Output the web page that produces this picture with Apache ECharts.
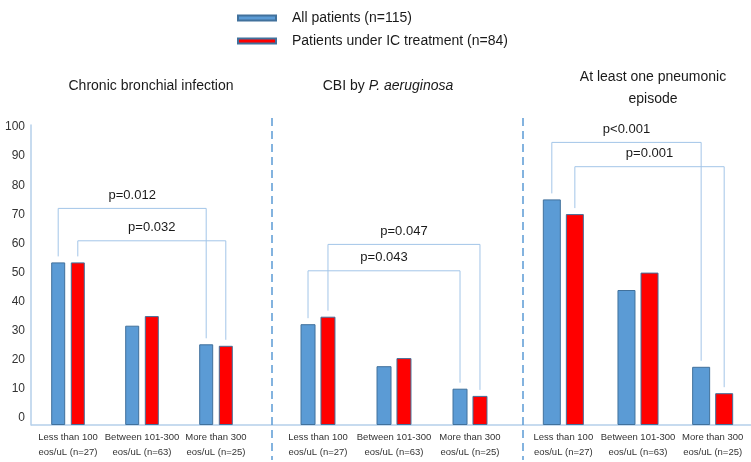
<!DOCTYPE html>
<html>
<head>
<meta charset="utf-8">
<script src="https://cdn.jsdelivr.net/npm/echarts@6/dist/echarts.min.js"></script>
<style>html,body{margin:0;padding:0;background:#fff}#c{width:751px;height:462px}</style>
</head>
<body>
<div id="c"></div>
<script>
// ---------- data ----------
const categories = ['Less than 100\neos/uL (n=27)', 'Between 101-300\neos/uL (n=63)', 'More than 300\neos/uL (n=25)'];
const seriesNames = ['All patients (n=115)', 'Patients under IC treatment (n=84)'];
const panelTitles = ['Chronic bronchial infection', '{n|CBI by }{i|P. aeruginosa}', 'At least one pneumonic\nepisode'];
const allChronic = [54.2, 33.1, 26.9];
const icChronic = [54.2, 36.3, 26.4];
const allPseudo = [33.6, 19.6, 12.1];
const icPseudo = [36.1, 22.3, 9.7];
const allPneumo = [75.2, 45.0, 19.4];
const icPneumo = [70.3, 50.8, 10.6];
const yMin = 0, yMax = 100, yInterval = 10;
// brackets: panel, group (0 = all patients, 1 = IC), from category, to category, level, label
const bracketPanel = [0, 0, 1, 1, 2, 2];
const bracketGroup = [0, 1, 1, 0, 0, 1];
const bracketFrom = [0, 0, 0, 0, 0, 0];
const bracketTo = [2, 2, 2, 2, 2, 2];
const bracketLevel = [72.2, 61.4, 60.2, 51.4, 94.2, 86.1];
const bracketLabel = ['p=0.012', 'p=0.032', 'p=0.047', 'p=0.043', 'p<0.001', 'p=0.001'];

// ---------- layout ----------
const FONT = '"Liberation Sans", Arial, sans-serif';
const plotTop = 125, plotBottom = 425;
const panels = [
  { left: 31, width: 222, barWidth: 14, barGap: '40%', titleX: 151, all: allChronic, ic: icChronic },
  { left: 280, width: 228, barWidth: 15, barGap: '33%', titleX: 388, all: allPseudo, ic: icPseudo },
  { left: 526, width: 224, barWidth: 18, barGap: '28%', titleX: 653, all: allPneumo, ic: icPneumo }
];
const BLUE = '#5b9bd5', RED = '#ff0000', EDGE = '#41719c';
const AXIS = '#b4cfea', BRACKET = '#a3c5e8', TEXT = '#1a1a1a';

const grid = [], xAxis = [], yAxis = [], series = [], title = [];
panels.forEach((p, i) => {
  grid.push({ left: p.left, width: p.width, top: plotTop, height: plotBottom - plotTop });
  xAxis.push({
    type: 'category', gridIndex: i, data: categories,
    axisLine: { show: false }, axisTick: { show: false },
    axisLabel: { color: '#333', fontSize: 9.5, lineHeight: 15, margin: 5, interval: 0, fontFamily: FONT }
  });
  yAxis.push({
    type: 'value', gridIndex: i, min: yMin, max: yMax, interval: yInterval,
    axisLine: { show: i === 0, lineStyle: { color: AXIS, width: 1.5 } },
    axisTick: { show: false }, axisLabel: { show: false }, splitLine: { show: false }
  });
  series.push({
    type: 'bar', name: seriesNames[0], xAxisIndex: i, yAxisIndex: i, data: p.all,
    barWidth: p.barWidth, barGap: p.barGap,
    itemStyle: { color: BLUE, borderColor: EDGE, borderWidth: 1 }
  });
  series.push({
    type: 'bar', name: seriesNames[1], xAxisIndex: i, yAxisIndex: i, data: p.ic,
    barWidth: p.barWidth, barGap: p.barGap,
    itemStyle: { color: RED, borderColor: EDGE, borderWidth: 1 }
  });
  title.push({
    text: panelTitles[i], left: p.titleX, textAlign: 'center', top: i === 2 ? 66 : 75, padding: 0,
    textStyle: {
      fontSize: 14, fontWeight: 'normal', color: TEXT, fontFamily: FONT, lineHeight: 22,
      rich: { n: { fontSize: 14, color: TEXT, fontFamily: FONT }, i: { fontSize: 14, fontStyle: 'italic', color: TEXT, fontFamily: FONT } }
    }
  });
});
// label-only axis for the y tick labels
grid.push({ left: 31, width: 10, top: 127, height: 291 });
xAxis.push({ type: 'value', gridIndex: 3, show: false });
yAxis.push({
  type: 'value', gridIndex: 3, min: yMin, max: yMax, interval: yInterval,
  axisLine: { show: false }, axisTick: { show: false }, splitLine: { show: false },
  axisLabel: { color: '#333', fontSize: 12, margin: 6, fontFamily: FONT }
});

const chart = echarts.init(document.getElementById('c'), null, { renderer: 'canvas' });
chart.setOption({
  animation: false,
  textStyle: { fontFamily: FONT },
  title, grid, xAxis, yAxis, series,
  legend: {
    data: seriesNames, orient: 'vertical', left: 237, top: 11, itemGap: 9, padding: 0,
    itemWidth: 38, itemHeight: 5, icon: 'rect', selectedMode: false,
    textStyle: { fontSize: 14, color: TEXT, fontFamily: FONT, padding: [0, 0, 0, 11] }
  }
});

// ---------- decorations computed from the library's layout ----------
function barTop(seriesIndex, dataIndex) {
  const l = chart.getModel().getSeriesByIndex(seriesIndex).getData().getItemLayout(dataIndex);
  return { x: l.x + l.width / 2, y: Math.min(l.y, l.y + l.height) };
}
const elements = [];
// full-width baseline
elements.push({ type: 'line', shape: { x1: panels[0].left, y1: plotBottom, x2: 751, y2: plotBottom }, style: { stroke: AXIS, lineWidth: 1.5 }, z: 1 });
// dashed dividers
[272, 523].forEach(x => elements.push({ type: 'line', shape: { x1: x, y1: 118, x2: x, y2: 460 }, style: { stroke: BLUE, lineWidth: 1.5, lineDash: [8, 5] }, z: 1 }));
const GAP = 6;
bracketLabel.forEach((lab, k) => {
  const sIdx = bracketPanel[k] * 2 + bracketGroup[k];
  const a = barTop(sIdx, bracketFrom[k]);
  const b = barTop(sIdx, bracketTo[k]);
  const yL = chart.convertToPixel({ yAxisIndex: bracketPanel[k] }, bracketLevel[k]);
  elements.push({
    type: 'polyline', shape: { points: [[a.x, a.y - GAP], [a.x, yL], [b.x, yL], [b.x, b.y - GAP]] },
    style: { stroke: BRACKET, lineWidth: 1, fill: null }, z: 2
  });
  elements.push({
    type: 'text', style: { text: lab, x: (a.x + b.x) / 2, y: yL - 13, align: 'center', verticalAlign: 'middle', font: '13px ' + FONT, fill: TEXT }, z: 3
  });
});
chart.setOption({ graphic: { elements } });
</script>
</body>
</html>
